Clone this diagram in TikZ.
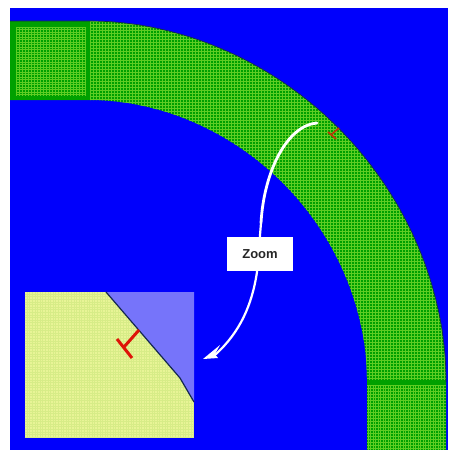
\documentclass[tikz,border=0pt]{standalone}
\usepackage{fontspec}
\setmainfont{Liberation Sans}
\definecolor{bgblue}{RGB}{0,0,252}
\definecolor{meshgreen}{RGB}{0,160,0}
\definecolor{meshlight}{RGB}{95,205,35}
\definecolor{insetyellow}{RGB}{232,244,150}
\definecolor{insetline}{RGB}{215,236,135}
\definecolor{insetblue}{RGB}{118,116,250}
\definecolor{edgedark}{RGB}{20,40,80}
\definecolor{crackred}{RGB}{222,20,8}
\definecolor{smallred}{RGB}{195,50,8}
\tikzset{
  meshline/.style={meshlight,line width=0.38pt},
  insetgrid/.style={insetline,line width=0.35pt},
  zoomarrow/.style={white,line cap=round},
  zoomlabel/.style={fill=white,minimum width=66pt,minimum height=34pt,inner sep=0pt,font=\bfseries\fontsize{13}{15}\selectfont,text=black!85},
  outerarc/.style={insert path={(10,21) -- plot[domain=89.5:0.5,samples=70] ({90+356*pow(cos(\x),1.03)},{380-359*pow(sin(\x),1.03)}) -- (446,382)}},
  bandpath/.style={outerarc,insert path={-- (446,450) -- (367,450) -- (367,382) -- plot[domain=0.5:89.5,samples=70] ({90+277*pow(cos(\x),1.03)},{380-280*pow(sin(\x),1.03)}) -- (10,100) -- cycle}},
}
\begin{document}
\begin{tikzpicture}[x=1pt,y=-1pt]
\useasboundingbox (0,0) rectangle (448,450);
\fill[white] (0,0) rectangle (448,450);
\fill[bgblue] (10,8) rectangle (448,450);
% curved band
\path[fill=meshgreen,bandpath];
\begin{scope}
\clip[bandpath];
% bend mesh
\foreach \gx in {90,93,...,446}{\draw[meshline] (\gx,21) -- (\gx,382);}
\foreach \gy in {21,24,...,380}{\draw[meshline] (90,\gy) -- (448,\gy);}
% straight section at the left
\foreach \gy in {27,29.5,...,96}{\draw[meshlight,line width=0.5pt] (16,\gy) -- (86,\gy);}
\foreach \gx in {16,19,...,86}{\draw[meshlight,line width=0.15pt] (\gx,27) -- (\gx,96);}
% straight section at the bottom
\foreach \gx in {368,370.5,...,445}{\draw[meshlight,line width=0.5pt] (\gx,385) -- (\gx,450);}
\foreach \gy in {385,388,...,450}{\draw[meshlight,line width=0.15pt] (367,\gy) -- (446,\gy);}
% solid green seams
\fill[meshgreen] (86,21) rectangle (90,100);
\fill[meshgreen] (367,380) rectangle (446,385);
\end{scope}
\path[draw=edgedark,line width=0.7pt,outerarc];
% small crack mark
\coordinate (ctip) at (339,128);
\coordinate (cbase) at (332,134);
\coordinate (cbara) at (328,132);
\coordinate (cbarb) at (336,139);
\draw[smallred,line width=1.6pt] (ctip) -- (cbase);
\draw[smallred,line width=1.6pt] (cbara) -- (cbarb);
% inset
\fill[insetyellow] (24.5,292) rectangle (194,438);
\begin{scope}
\clip (24.5,292) rectangle (194,438);
\foreach \gx in {27,29.6,...,194}{\draw[insetgrid] (\gx,292) -- (\gx,438);}
\foreach \gy in {294,296.6,...,438}{\draw[insetgrid] (24.5,\gy) -- (194,\gy);}
\end{scope}
\fill[insetblue] (106,292) -- (194,292) -- (194,402) -- (180,378) -- cycle;
\draw[edgedark,line width=1.2pt] (106,292) -- (180,378) -- (194,402);
\coordinate (itip) at (139,330);
\coordinate (ibase) at (124,347);
\coordinate (ibara) at (117,339);
\coordinate (ibarb) at (132,358);
\draw[crackred,line width=3pt] (itip) -- (ibase);
\draw[crackred,line width=3pt] (ibara) -- (ibarb);
% zoom arrow
\coordinate (astart) at (317,123);
\coordinate (amid) at (261,223);
\coordinate (alow) at (257,272);
\coordinate (aend) at (216,354);
\coordinate (atip) at (203,359);
\draw[zoomarrow,line width=2.8pt] (astart) .. controls (288,125) and (264,170) .. (amid);
\draw[zoomarrow,line width=2.2pt] (amid) -- (alow);
\draw[zoomarrow,line width=2.2pt] (alow) .. controls (252,305) and (240,332) .. (aend);
\fill[white] (atip) -- (220,345) -- (215,354) -- (218,358) -- cycle;
\node[zoomlabel] (zoom) at (260,254) {Zoom};
\end{tikzpicture}
\end{document}
